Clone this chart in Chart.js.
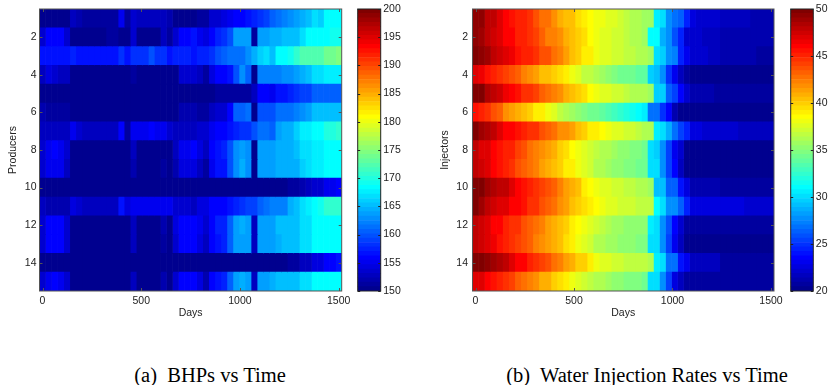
<!DOCTYPE html>
<html><head><meta charset="utf-8">
<script src="https://cdn.jsdelivr.net/npm/chart.js@4.4.1/dist/chart.umd.min.js"></script>
<style>
html,body{margin:0;padding:0;background:#fff;width:829px;height:385px;overflow:hidden;position:relative;}
.box{position:absolute;top:0;}
canvas{display:block;}
.cap{position:absolute;top:365px;height:20px;line-height:20px;font-family:'Liberation Serif','Times New Roman',serif;font-size:20.5px;color:#000;text-align:center;white-space:nowrap;}
</style></head><body>
<div class="box" style="left:0px"><canvas id="hmA" width="355" height="330"></canvas></div>
<div class="box" style="left:355px"><canvas id="cbA" width="60" height="330"></canvas></div>
<div class="box" style="left:420px"><canvas id="hmB" width="365" height="330"></canvas></div>
<div class="box" style="left:786px"><canvas id="cbB" width="43" height="330"></canvas></div>
<div class="cap" style="left:0px;width:420px">(a)&nbsp; BHPs vs Time</div>
<div class="cap" style="left:447px;width:400px">(b)&nbsp; Water Injection Rates vs Time</div>
<script>
// ---- data ----
const days = [0,30.6,61.2,91.8,122.4,153.1,183.7,214.3,244.9,275.5,306.1,336.7,367.3,398.0,428.6,459.2,489.8,520.4,551.0,581.6,612.2,642.9,673.5,704.1,734.7,765.3,795.9,826.5,857.1,887.8,918.4,949.0,979.6,1010.2,1040.8,1071.4,1102.0,1132.7,1163.3,1193.9,1224.5,1255.1,1285.7,1316.3,1346.9,1377.6,1408.2,1438.8,1469.4,1500];
const rowLabels = ['1','2','3','4','5','6','7','8','9','10','11','12','13','14','15'];
const rowTicks = [2,4,6,8,10,12,14];
const xTicks = [0,500,1000,1500];
const bhpTicks = [150,155,160,165,170,175,180,185,190,195,200];
const injTicks = [20,25,30,35,40,45,50];

// BHP (producers), one array per producer row
const P1 = [150.5,150.5,150.5,150.5,150.5,153,152,151,151,151,151,151,151,155,151.5,153.5,152.5,152.5,152.5,153,153,152.3,150.5,150.5,150.5,150.5,150.8,150.8,153.5,153.8,154,155,155.5,156,157,157.8,158.3,158.8,160.5,161,162,163,164,164.5,165,166.5,166,168,168.5,168];
const P2 = [153.8,155.5,156,155.5,153.5,150.5,150.5,150.5,150.5,150.5,150.5,151.5,151,150.5,150.5,153.5,150.5,150.5,150.5,150.5,152.5,150.8,153.5,156,156.2,156.3,155,154,155.5,157.5,158,160,163.5,163.8,163.8,151,164,164,164.3,164.8,165,165,165.2,166.5,168,168,168.2,168.5,168.8,168.8];
const P3 = [156.5,156.5,156.5,156.5,156.5,157.5,157,157,157,157,157,157,157,158.5,156.8,158.5,158.5,158.5,159.5,158.2,158.2,157,157.2,157.2,157.2,157,157.3,157.3,158.2,160,160.3,161,161.2,161.5,163,164.5,166,166.5,165.5,168,168.3,168.8,170.5,172.5,172.5,172,172.2,173.5,173.5,174.5];
const P4 = [152.5,154,153.5,152.5,152.5,150.5,150.5,150.5,150.5,150.5,150.5,150.5,150.5,150.5,150.5,151,150.5,150.5,150.5,150.5,150.5,150.5,150.5,153.5,153.5,153.2,152.5,150.8,154,155.8,156,157,160,162.5,160.5,150.5,162,162,162.2,162.2,162.5,162.5,163.5,164.8,165,166.5,166.8,167.3,167.5,167.5];
const P5 = [150.3,150.3,150.3,150.3,150.3,150.3,150.3,150.3,150.3,150.3,150.3,150.3,150.3,150.3,150.3,150.3,150.3,150.3,150.3,150.3,150.3,150.3,150.3,150.3,150.3,150.3,150.3,150.3,150.3,150.8,150.8,150.8,151.5,151.5,151.5,152.8,155.5,155.5,155,156.8,157,157.5,158,159,159.2,160.5,160.5,160.8,160.8,160.8];
const P6 = [152,151.5,151.5,151.5,151,150.5,150.5,150.5,150.5,150.5,150.5,150.5,150.5,150.5,150.5,150.5,150.5,150.5,150.5,150.5,150.5,150.5,150.5,152.3,152.3,152,150.8,150.8,152.5,153.8,153.8,155.5,160.5,160.8,161,150.5,159.5,159.5,159.8,161.3,161.5,161.5,161.8,163,163.3,165,165,165.2,165.2,165.2];
const P7 = [152.5,152.5,152.5,152.5,152.5,155,153.5,153,153,153,153,153,153,156.2,151.5,155.2,155.2,155.2,155.7,155,155,153.5,153,153,153,153,153.5,153.5,155,156,156.2,157,157.3,158.3,158.5,159.8,161.5,161.5,160.5,164,164.2,164.3,166,167.5,167.7,168.5,168.7,170,170.3,170.5];
const P8 = [153.5,155.2,155.5,155.2,153.3,150.5,150.5,150.5,150.5,150.5,150.5,150.5,150.5,150.5,150.5,152.5,150.5,150.5,150.5,150.5,150.5,150.5,152.5,155,155.3,155.5,154,152.5,155.5,157,157.3,160,163,163.3,163,150.5,164,164,164,164.2,164.2,164.7,165,166.5,166.8,167.5,167.7,168,168,168];
const P9 = [153.3,154.8,155,154.8,153,150.5,150.5,150.5,150.5,150.5,150.5,150.5,150.5,150.5,150.5,152,150.5,150.5,150.5,150.5,151.3,150.5,152,154.5,154.5,154,153,151.5,155,156.8,157,159.5,162.5,164.5,162.5,150.5,163.5,163.5,163.8,164.2,164.2,164.3,164.5,166,167,167.2,167.2,168,168.2,168.2];
const P10 = [150.2,150.2,150.2,150.2,150.2,150.2,150.2,150.2,150.2,150.2,150.2,150.2,150.2,150.2,150.2,150.2,150.2,150.2,150.2,150.2,150.2,150.2,150.2,150.2,150.2,150.2,150.2,150.2,150.2,150.2,150.2,150.2,150.2,150.2,150.2,150.2,150.2,150.2,150.2,150.2,150.2,150.8,150.8,152.3,152.5,153.5,153.8,155,155.3,156];
const P11 = [152.5,152,152,152,152,154.5,153.8,153,153,153,153,153,153,157,154,155,155,155,155,154.8,154.8,154.8,153.5,153.5,153.5,153,154,154,155.5,155.7,155.8,157,157.2,158.2,159,159.2,160.8,161,162,162.2,162.3,164.5,165,167,167.3,168.7,168.8,170.8,171,171];
const P12 = [153.8,155.8,156,155.8,153.8,150.5,150.5,150.5,150.5,150.5,150.5,150.5,150.5,150.5,150.5,153,150.5,150.5,150.5,150.5,152,150.5,154,156,156,156,155,153.2,155.8,157.2,157.5,160.5,164,164.2,164,152.5,163.5,163.5,163.8,165,165,165.2,165.2,166.8,167,168,168.2,168.2,168.3,168.3];
const P13 = [153.5,155.5,155.8,155.5,153.5,150.5,150.5,150.5,150.5,150.5,150.5,150.5,150.5,150.5,150.5,152.5,150.5,150.5,150.5,150.5,151.5,150.5,153.5,155.5,155.5,155.5,154.5,152.5,155.5,157,157.2,160.5,163.5,163.8,163.5,152.5,163.5,163.5,163.8,164.8,165,165,165.2,166.8,167,168,168,168.2,168.2,168.2];
const P14 = [150.2,150.2,150.2,150.2,150.2,150.2,150.2,150.2,150.2,150.2,150.2,150.2,150.2,150.2,150.2,150.2,150.2,150.2,150.2,150.2,150.2,150.2,150.2,150.2,150.2,150.2,150.2,150.2,150.2,150.2,150.2,150.2,150.2,150.2,150.2,150.2,150.2,150.2,150.2,150.2,150.2,151.2,151.5,152.8,153,154.2,154.5,155.5,155.8,156.5];
const P15 = [153.3,155.2,155.5,155.2,153.3,150.5,150.5,150.5,150.5,150.5,150.5,150.5,150.5,150.5,150.5,152.5,150.5,150.5,150.5,150.5,152,150.5,153.5,155.5,155.5,155.5,154,152,155.5,157,157.2,160.5,163.5,164.5,163.5,152.5,164,164,164.2,165,165,165.2,165.2,166.8,167,168,168.2,168.2,168.3,168.3];

// Water injection rates (injectors), one array per injector row
const I1 = [49.5,49.2,48,47.7,46.8,46.1,45.6,45.3,45,44.5,43.5,42.8,42.5,42,41,40.6,40.3,39.5,39.2,38.7,38.2,37.9,37.6,37.4,37.1,36.7,36.4,36.1,35.8,35.5,30.5,30.3,27.5,27,26.2,24.5,22.5,22.3,22.2,22.2,22,21.8,21.8,21.8,21.7,21.7,21.3,21.3,21.3,21.3];
const I2 = [49.3,49,48,47.4,47,46.2,45.9,45,45,44.7,44.2,43.2,42.3,42.3,41.7,41,40.6,40.1,39.5,38.4,38.2,37.8,37.5,37.2,37,36.7,36.4,36.1,35.8,31,31,28.8,27.8,26,24.3,22,21.9,21.9,21.8,21.8,21.6,21.1,21,21,21,21,21,21,21,21];
const I3 = [50,49.3,48.8,47.7,47.4,46.8,46.5,45.5,45.2,45,44.5,43.8,43.5,42.5,42.2,41.3,40.3,39.8,39.2,38.8,37.9,37.6,37.4,37.2,37,36.8,36.5,36.2,36,35.8,30,29.8,27.8,27.2,24.6,23.2,22,22,22,21.8,21.5,21.4,21.4,21.3,21.3,21.3,21.2,20.8,20.8,20.8];
const I4 = [47,46.5,45.7,45.2,44.7,44.2,43.6,43,42.2,41.7,41.2,40.4,40.2,39.8,39.3,38.8,37.9,37.4,36.8,36.6,36.4,35.8,35.3,34.8,34.5,34.3,34.2,34,33.8,29.5,29.3,27.5,25,23,21.8,20.5,20.3,20.3,20.3,20.3,20.3,20.3,20.3,20.3,20.3,20.3,20.3,20.3,20.3,20.3];
const I5 = [50,49.6,48.3,47.7,47.4,46.5,46,45.7,44.8,44.4,44.2,43.2,42.5,42.2,41.6,41,40.6,40,39.5,38.4,37.9,37.6,37.4,37.1,36.9,36.7,36.4,36.2,36,35.8,29.8,29.8,26.5,25.6,23.5,22.2,21.3,21.3,21.3,21.3,20.8,20.8,20.8,20.8,20.8,20.8,20.8,20.8,20.8,20.8];
const I6 = [45.5,45,44.5,43.5,43,42,41.4,41,40.3,40,39.2,38.8,38.2,37.6,36.8,36.3,35.8,35.3,34.7,34.4,34.1,33.8,33.5,32.8,32.5,31.8,31.4,31.2,30.6,27,26.6,24.8,23.4,21,20.3,20.3,20.3,20.3,20.3,20.3,20.3,20.3,20.3,20.3,20.3,20.3,20.3,20.3,20.3,20.3];
const I7 = [49.6,48.8,48.5,47.7,46.8,46.2,46,45.5,45,44.7,44.4,43.8,43.2,42.5,42,41.6,41.4,40.6,40,39.2,38.8,38.4,37.9,37.6,37.4,37.1,36.9,36.6,36.4,36.2,30.4,30.2,28.5,27,25.5,24.3,22.8,22.8,22.2,22.2,22.2,22.2,22.2,22.2,21.6,21.6,21.6,21.6,21.6,21.6];
const I8 = [47.7,47,46.8,46.2,45.5,45.2,45,44.2,43.5,42.9,42.3,41.7,41.4,40.7,40.1,39.5,38.4,37.9,37.4,37.1,36.7,36.4,36.1,35.5,35.3,35,34.8,34.6,34.4,30.2,29.8,27.5,25.6,23.2,22,20.4,20.4,20.4,20.4,20.4,20.4,20.4,20.4,20.4,20.4,20.4,20.4,20.4,20.4,20.4];
const I9 = [48,47.4,46.8,46,45.5,45.2,44.8,43.5,43.2,42.9,42.3,41.4,41,40.4,39.8,39.2,38.8,38.2,37.4,36.9,36.4,36.1,35.8,35.3,35,34.8,34.6,34.5,34.4,30.2,30,27.5,25.5,23.3,21.8,20.3,20.3,20.3,20.3,20.3,20.3,20.3,20.3,20.3,20.3,20.3,20.3,20.3,20.3,20.3];
const I10 = [50,49.6,49,48.3,48,47.7,46.8,46.2,45.7,45.2,44.8,44.2,43.6,43,42.3,41.4,40.7,40.3,39.2,38.7,37.9,37.6,37.4,37.1,36.9,36.7,36.5,36.3,36.1,35.9,29.3,29,26.5,26.3,23.8,22.8,21.3,21.3,21.3,21.3,21.3,20.5,20.5,20.5,20.5,20.5,20.5,20.5,20.5,20.5];
const I11 = [49.6,49,48,47.4,47,46.8,46.2,46,45.5,44.8,44.5,43.8,43.2,42.5,42,41.4,40.4,40.1,39.5,38.8,38.4,37.9,37.6,37.4,37.1,37,36.9,36.8,36.7,36.6,30.8,30,27.6,27.5,26.2,24.3,22.8,22.8,22.8,22.8,22.8,22.8,22.8,22.8,22.8,22.2,22.2,22.2,22.2,22.2];
const I12 = [47.7,47.4,46.8,46.2,46,45.2,44.8,44.5,43.8,43.2,42.5,42.2,41.4,41,40.4,39.8,39.2,38.7,38.2,37.6,37.1,36.7,36.4,35.8,35.5,35.3,35.2,35.1,35,30.5,30.2,27.8,25.8,23.5,22.2,20.9,20.9,20.5,20.5,20.5,20.5,20.5,20.5,20.5,20.5,20.5,20.5,20.5,20.5,20.5];
const I13 = [47.7,47.4,46.8,46.3,45.7,45.2,44.8,44.2,43.6,43,42.3,41.7,41.4,40.7,40.4,39.5,38.9,38.2,37.4,36.9,36.4,36.1,35.8,35.5,35.3,35.1,35,34.9,34.8,30.3,30.1,27.5,25.5,23.2,21.8,20.4,20.4,20.4,20.4,20.4,20.4,20.4,20.4,20.4,20.4,20.4,20.4,20.4,20.4,20.4];
const I14 = [50,50,49.3,48.8,48.3,47.7,47,46.2,46,45.2,44.8,44.2,43.6,42.5,42.3,41.4,41,40.1,39.8,38.9,38.2,37.6,37.4,37.1,36.9,36.8,36.7,36.6,36.5,36.4,30.5,30,27,26.8,23.8,23.2,21.6,21.6,21.6,21.6,21.6,20.8,20.8,20.8,20.8,20.8,20.8,20.8,20.8,20.8];
const I15 = [47,46.8,46.2,45.5,45.2,44.8,44.2,43.2,42.9,42.3,41.7,41,40.7,40.1,39.5,38.9,38.2,37.6,37.1,36.7,36.4,36.1,35.5,35.3,35,34.8,34.7,34.6,34.5,30.2,30,27.5,25.5,22.8,21.8,20.8,20.8,20.8,20.8,20.5,20.5,20.5,20.5,20.5,20.5,20.5,20.5,20.5,20.5,20.5];

const producers = [P1,P2,P3,P4,P5,P6,P7,P8,P9,P10,P11,P12,P13,P14,P15];
const injectors = [I1,I2,I3,I4,I5,I6,I7,I8,I9,I10,I11,I12,I13,I14,I15];

// ---- style ----
const FONT = {family:"'Liberation Sans', Arial, Helvetica, sans-serif", size:10.5};
const TXT = '#222';
const AXIS = '#555';
Chart.defaults.font.family = FONT.family;
Chart.defaults.font.size = FONT.size;
Chart.defaults.color = TXT;

function jet(i){ // MATLAB jet(64), i = 1..64
  const r = i<=24?0: i<=40?(i-24)/16 : i<=56?1 : 1-(i-56)/16;
  const g = i<=8?0: i<=24?(i-8)/16 : i<=40?1 : i<=55?1-(i-40)/16 : 0;
  const b = i<=8?(i+8)/16 : i<=24?1 : i<=39?1-(i-24)/16 : 0;
  return 'rgb('+Math.round(r*255)+','+Math.round(g*255)+','+Math.round(b*255)+')';
}
function colorFor(v, lo, hi){
  let i = Math.floor((v-lo)/(hi-lo)*64)+1;
  i = Math.max(1, Math.min(64, i));
  return jet(i);
}
// cell edges halfway between sample days
const edges = [days[0]-(days[1]-days[0])/2];
for (let k=1;k<days.length;k++) edges.push((days[k-1]+days[k])/2);
edges.push(days[days.length-1]+(days[days.length-1]-days[days.length-2])/2);

const heatBox = { id:'heatBox', afterDatasetsDraw(chart){
  const {ctx, chartArea:a, scales:{x,y}} = chart;
  ctx.save(); ctx.strokeStyle = AXIS; ctx.lineWidth = 1;
  ctx.strokeRect(a.left, a.top, a.right-a.left, a.bottom-a.top);
  ctx.beginPath();
  xTicks.forEach(v=>{ const px = Math.round(x.getPixelForValue(v))+0.5;
    ctx.moveTo(px,a.bottom); ctx.lineTo(px,a.bottom-3); ctx.moveTo(px,a.top); ctx.lineTo(px,a.top+3); });
  rowTicks.forEach(r=>{ const py = Math.round(y.getPixelForValue(r-1))+0.5;
    ctx.moveTo(a.left,py); ctx.lineTo(a.left+3,py); ctx.moveTo(a.right,py); ctx.lineTo(a.right-3,py); });
  ctx.stroke(); ctx.restore();
}};
const cbarBox = { id:'cbarBox', afterDatasetsDraw(chart){
  const {ctx, chartArea:a, scales:{y}} = chart;
  ctx.save(); ctx.strokeStyle = '#222'; ctx.lineWidth = 1;
  ctx.strokeRect(a.left, a.top, a.right-a.left, a.bottom-a.top);
  ctx.beginPath();
  y.ticks.forEach(t=>{ const py = Math.round(y.getPixelForValue(t.value))+0.5;
    ctx.moveTo(a.left,py); ctx.lineTo(a.left+2.5,py); ctx.moveTo(a.right,py); ctx.lineTo(a.right-2.5,py); });
  ctx.stroke(); ctx.restore();
}};

function heatConfig(rows, lo, hi, yTitle, yAxisW, yTitlePad, yTickPad, padRight){
  const datasets = days.map((d,k)=>({
    data: rows.map(()=>[edges[k], edges[k+1]]),
    backgroundColor: rows.map(r=>colorFor(r[k], lo, hi)),
    borderWidth: 0, grouped: false, barPercentage: 1, categoryPercentage: 1
  }));
  return {
    type:'bar',
    data:{labels: rowLabels, datasets},
    options:{
      responsive:false, animation:false, indexAxis:'y', events:[],
      plugins:{legend:{display:false}, tooltip:{enabled:false}},
      layout:{padding:{top:9, right:padRight, left:0, bottom:0}},
      scales:{
        x:{type:'linear', min:edges[0], max:edges[edges.length-1],
           afterBuildTicks:s=>{ s.ticks = xTicks.map(v=>({value:v})); },
           afterFit:s=>{ s.height = 39; s.paddingLeft = 0; s.paddingRight = 0; },
           grid:{display:false, drawTicks:false}, border:{display:false},
           ticks:{padding:3.5, maxRotation:0, autoSkip:false, color:TXT, callback:v=>String(v)},
           title:{display:true, text:'Days', color:TXT, padding:{top:0,bottom:11}}},
        y:{type:'category', offset:true,
           afterFit:s=>{ s.width = yAxisW; s.paddingTop = 0; s.paddingBottom = 0; },
           grid:{display:false, drawTicks:false}, border:{display:false},
           ticks:{autoSkip:false, padding:yTickPad, color:TXT,
                  callback:(v,i)=> rowTicks.includes(i+1) ? rowLabels[i] : ''},
           title:{display:true, text:yTitle, color:TXT, padding:{top:yTitlePad,bottom:0}}}
      }
    },
    plugins:[heatBox]
  };
}
function cbarConfig(lo, hi, tickVals, padLeft, axisW){
  const step = (hi-lo)/64, datasets = [];
  for (let i=1;i<=64;i++) datasets.push({data:[[lo+(i-1)*step, lo+i*step]], backgroundColor:jet(i),
    borderWidth:0, grouped:false, barPercentage:1, categoryPercentage:1});
  return {
    type:'bar', data:{labels:[''], datasets},
    options:{
      responsive:false, animation:false, events:[],
      plugins:{legend:{display:false}, tooltip:{enabled:false}},
      layout:{padding:{left:padLeft, top:9, right:0, bottom:39}},
      scales:{
        x:{display:false, offset:true},
        y:{type:'linear', position:'right', min:lo, max:hi,
           afterBuildTicks:s=>{ s.ticks = tickVals.map(v=>({value:v})); },
           afterFit:s=>{ s.width = axisW; s.paddingTop = 0; s.paddingBottom = 0; },
           grid:{display:false, drawTicks:false}, border:{display:false},
           ticks:{padding:2.5, color:TXT, callback:v=>String(v)}}
      }
    },
    plugins:[cbarBox]
  };
}
new Chart(document.getElementById('hmA'), heatConfig(producers, 150, 200, 'Producers', 39.5, 6.7, 3, 13.3));
new Chart(document.getElementById('cbA'), cbarConfig(150, 200, bhpTicks, 2.7, 34.3));
new Chart(document.getElementById('hmB'), heatConfig(injectors, 20, 50, 'Injectors', 52.5, 19.2, 4.5, 11));
new Chart(document.getElementById('cbB'), cbarConfig(20, 50, injTicks, 4.7, 15.7));
</script>
</body></html>
